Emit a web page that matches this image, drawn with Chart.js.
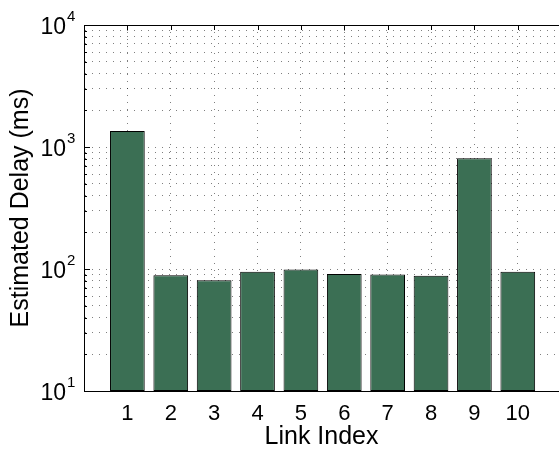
<!DOCTYPE html>
<html>
<head>
<meta charset="utf-8">
<script src="https://cdn.jsdelivr.net/npm/chart.js@4.4.0/dist/chart.umd.js"></script>
<style>
  html, body { margin: 0; padding: 0; background: #fff; }
</style>
</head>
<body>
<canvas id="chart" width="559" height="452"></canvas>
<script>
// data
const linkIndex = [1, 2, 3, 4, 5, 6, 7, 8, 9, 10];
const delayMs = [1350, 89, 81, 95, 99, 91, 90, 88, 810, 95];
const decadeTicks = [10, 100, 1000, 10000];
const xLabel = 'Link Index';
const yLabel = 'Estimated Delay (ms)';

const FONT = "'Liberation Sans', Arial, Helvetica, sans-serif";
const BAR_FILL = '#3b6f54';
const GRID_COLOR = 'rgba(0, 0, 0, 0.5)';

// superscript decade labels, top frame line and inward tick marks (matlab look)
const axisDecor = {
  id: 'axisDecor',
  afterDraw(chart) {
    const { ctx, chartArea, scales } = chart;
    const y = scales.y;
    const x = scales.x;
    ctx.save();

    // top frame line
    ctx.strokeStyle = '#000';
    ctx.lineWidth = 1;
    ctx.beginPath();
    ctx.moveTo(chartArea.left, chartArea.top + 0.5);
    ctx.lineTo(chartArea.right, chartArea.top + 0.5);
    ctx.stroke();

    // inward ticks on the left axis
    y.ticks.forEach(t => {
      const py = Math.round(y.getPixelForValue(t.value)) + 0.5;
      const major = decadeTicks.includes(t.value);
      ctx.beginPath();
      ctx.moveTo(chartArea.left, py);
      ctx.lineTo(chartArea.left + (major ? 6 : 3), py);
      ctx.stroke();
    });

    // ticks on top edge for the link positions
    x.ticks.forEach(t => {
      const px = Math.round(x.getPixelForValue(t.value)) + 0.5;
      ctx.beginPath();
      ctx.moveTo(px, chartArea.top);
      ctx.lineTo(px, chartArea.top + 5);
      ctx.stroke();
    });

    // 10^n labels
    ctx.fillStyle = '#000';
    decadeTicks.forEach(v => {
      const py = y.getPixelForValue(v);
      const exp = Math.round(Math.log10(v));
      ctx.font = '23px ' + FONT;
      ctx.textAlign = 'right';
      ctx.textBaseline = 'alphabetic';
      ctx.fillText('10', 66, py + 9);
      ctx.font = '15px ' + FONT;
      ctx.textAlign = 'left';
      ctx.fillText(String(exp), 67, py - 4);
    });

    ctx.restore();
  }
};

const ctx = document.getElementById('chart').getContext('2d');
const chart = new Chart(ctx, {
  type: 'bar',
  data: {
    datasets: [{
      data: linkIndex.map((x, i) => ({ x: x, y: delayMs[i] })),
      backgroundColor: BAR_FILL,
      borderColor: '#000',
      borderWidth: 1,
      borderSkipped: false,
      barPercentage: 1,
      categoryPercentage: 0.8
    }]
  },
  options: {
    responsive: false,
    animation: false,
    devicePixelRatio: 1,
    layout: { padding: { top: 25, left: 0, right: 0, bottom: 0 } },
    plugins: {
      legend: { display: false },
      tooltip: { enabled: false }
    },
    scales: {
      x: {
        type: 'linear',
        offset: false,
        min: 0,
        max: 10.95,
        afterBuildTicks: scale => {
          scale.ticks = linkIndex.map(v => ({ value: v }));
        },
        afterFit: scale => { scale.height = 61; },
        ticks: {
          autoSkip: false,
          maxRotation: 0,
          padding: 10,
          color: '#000',
          font: { family: FONT, size: 22 }
        },
        grid: {
          offset: false,
          color: GRID_COLOR,
          lineWidth: 1,
          drawTicks: false
        },
        border: { display: true, color: '#000', width: 1, dash: [1, 6] },
        title: {
          display: true,
          text: xLabel,
          color: '#000',
          font: { family: FONT, size: 25 },
          padding: { top: 0, bottom: 0 }
        }
      },
      y: {
        type: 'logarithmic',
        min: 10,
        max: 10000,
        afterBuildTicks: scale => {
          const t = [];
          decadeTicks.forEach(d => {
            if (d === 10000) { t.push({ value: d }); return; }
            for (let m = 1; m <= 9; m++) t.push({ value: d * m });
          });
          scale.ticks = t;
        },
        afterFit: scale => { scale.width = 84; },
        ticks: { display: false },
        grid: {
          color: GRID_COLOR,
          lineWidth: 1,
          drawTicks: false
        },
        border: { display: true, color: '#000', width: 1, dash: [1, 6] },
        title: {
          display: true,
          text: yLabel,
          color: '#000',
          font: { family: FONT, size: 25 },
          padding: { top: 6, bottom: 0 }
        }
      }
    }
  },
  plugins: [axisDecor]
});
</script>
</body>
</html>
